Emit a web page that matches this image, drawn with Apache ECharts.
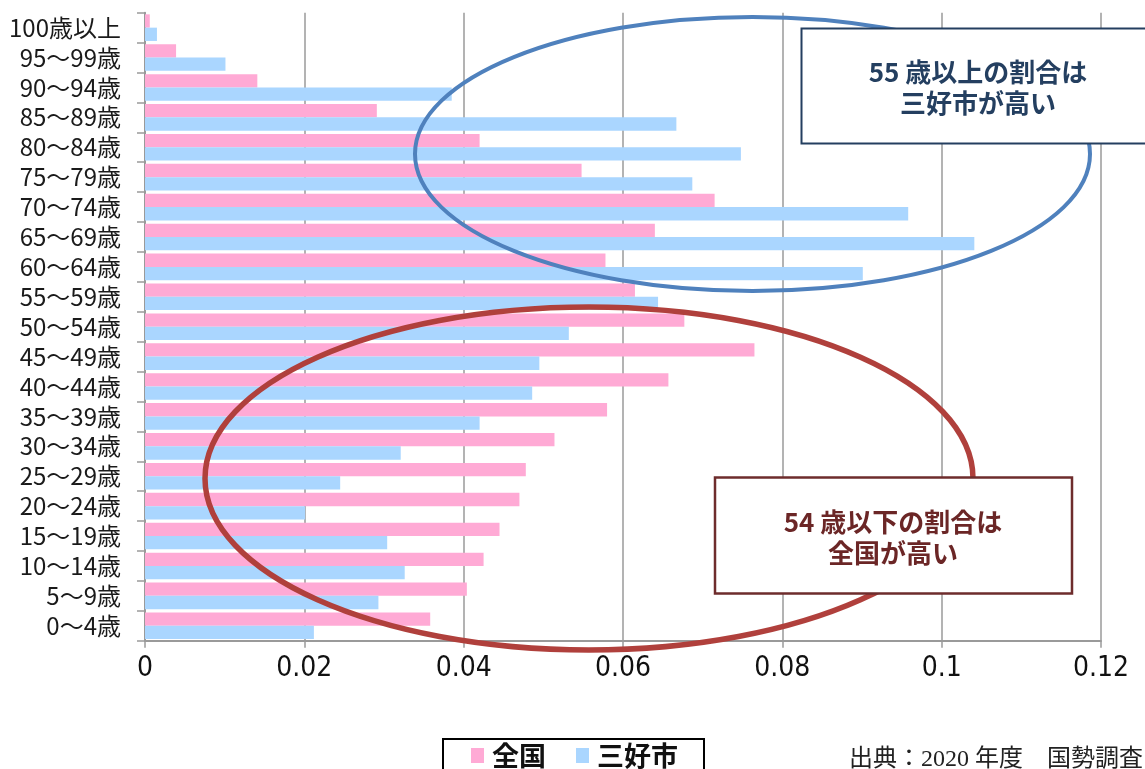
<!DOCTYPE html>
<html lang="ja">
<head>
<meta charset="utf-8">
<title>年齢階級別人口割合 全国と三好市</title>
<script src="https://cdn.jsdelivr.net/npm/echarts@6/dist/echarts.min.js"></script>
<style>
  html, body { margin: 0; padding: 0; background: #ffffff; }
  #chart { width: 1145px; height: 769px; }
</style>
</head>
<body>
<div id="chart"></div>
<script>
// Age groups, listed from the youngest (bottom of the chart) to the oldest (top)
const categories = [
  '0〜4歳', '5〜9歳', '10〜14歳', '15〜19歳', '20〜24歳', '25〜29歳',
  '30〜34歳', '35〜39歳', '40〜44歳', '45〜49歳', '50〜54歳', '55〜59歳',
  '60〜64歳', '65〜69歳', '70〜74歳', '75〜79歳', '80〜84歳', '85〜89歳',
  '90〜94歳', '95〜99歳', '100歳以上'
];

// Share of the population in each age group (2020 census)
const nationalShare = [
  0.0358, 0.0404, 0.0425, 0.0445, 0.0470, 0.0478,
  0.0514, 0.0580, 0.0657, 0.0765, 0.0677, 0.0615,
  0.0578, 0.0640, 0.0715, 0.0548, 0.0420, 0.0291,
  0.0141, 0.0039, 0.0006
];
const miyoshiShare = [
  0.0212, 0.0293, 0.0326, 0.0304, 0.0201, 0.0245,
  0.0321, 0.0420, 0.0486, 0.0495, 0.0532, 0.0644,
  0.0901, 0.1041, 0.0958, 0.0687, 0.0748, 0.0667,
  0.0385, 0.0101, 0.0015
];

const seriesNames = ['全国', '三好市'];
const tickLabels = ['0', '0.02', '0.04', '0.06', '0.08', '0.1', '0.12'];

const sourceNote = '出典：2020 年度　国勢調査';
const noteOlder = ['55 歳以上の割合は', '三好市が高い'];
const noteYounger = ['54 歳以下の割合は', '全国が高い'];

const pink = '#ffaad5';
const blue = '#aad6ff';
const gridGray = '#9a9a9a';
const jpFont = '"Noto Sans CJK JP", "Noto Sans", sans-serif';

const chart = echarts.init(document.getElementById('chart'), null, { renderer: 'canvas' });

chart.setOption({
  animation: false,
  backgroundColor: '#ffffff',
  grid: { left: 145, right: 44, top: 12.7, bottom: 128.3, containLabel: false },
  legend: {
    data: seriesNames,
    left: 443,
    top: 739,
    orient: 'horizontal',
    icon: 'rect',
    itemWidth: 13,
    itemHeight: 15,
    itemGap: 30,
    padding: [3, 26, 30, 28],
    borderColor: '#000000',
    borderWidth: 2,
    borderRadius: 0,
    textStyle: {
      fontFamily: jpFont,
      fontSize: 27,
      fontWeight: 'bold',
      color: '#111111',
      padding: [0, 0, 0, 3]
    }
  },
  xAxis: {
    type: 'value',
    min: 0,
    max: 0.12,
    interval: 0.02,
    axisLine: { show: true, lineStyle: { color: gridGray, width: 2 } },
    axisTick: { show: true, length: 7, lineStyle: { color: gridGray, width: 1.5 } },
    splitLine: { show: true, lineStyle: { color: gridGray, width: 1.5 } },
    axisLabel: {
      margin: 14,
      color: '#111111',
      fontFamily: '"Liberation Sans Narrow", "DejaVu Sans Condensed", sans-serif',
      fontSize: 28,
      formatter: (value, index) => tickLabels[index]
    }
  },
  yAxis: {
    type: 'category',
    data: categories,
    boundaryGap: true,
    axisLine: { show: true, lineStyle: { color: gridGray, width: 2 } },
    axisTick: { show: true, length: 8, interval: 0, lineStyle: { color: gridGray, width: 1.5 } },
    splitLine: { show: false },
    axisLabel: {
      interval: 0,
      margin: 24,
      color: '#1a1a1a',
      fontFamily: jpFont,
      fontSize: 24
    }
  },
  series: [
    {
      name: seriesNames[0],
      type: 'bar',
      data: nationalShare,
      barGap: '0%',
      barCategoryGap: '11%',
      itemStyle: { color: pink },
      z: 2
    },
    {
      name: seriesNames[1],
      type: 'bar',
      data: miyoshiShare,
      barGap: '0%',
      barCategoryGap: '11%',
      itemStyle: { color: blue },
      z: 2
    }
  ],
  graphic: [
    // highlight rings around the two age ranges
    {
      type: 'ellipse', z: 10, silent: true,
      shape: { cx: 752.5, cy: 154, rx: 337.5, ry: 137 },
      style: { fill: null, stroke: '#4f81bd', lineWidth: 4 }
    },
    {
      type: 'ellipse', z: 10, silent: true,
      shape: { cx: 589, cy: 478.5, rx: 384, ry: 171.5 },
      style: { fill: null, stroke: '#b0403c', lineWidth: 5.5 }
    },
    // callout boxes
    {
      type: 'rect', z: 20, silent: true,
      shape: { x: 801.5, y: 28.5, width: 360, height: 115 },
      style: { fill: '#ffffff', stroke: '#243f60', lineWidth: 2 }
    },
    {
      type: 'text', z: 21, silent: true, x: 978, y: 72,
      style: { text: noteOlder[0], font: 'bold 26px ' + jpFont, fill: '#243f60', textAlign: 'center', textVerticalAlign: 'middle' }
    },
    {
      type: 'text', z: 21, silent: true, x: 978, y: 103,
      style: { text: noteOlder[1], font: 'bold 26px ' + jpFont, fill: '#243f60', textAlign: 'center', textVerticalAlign: 'middle' }
    },
    {
      type: 'rect', z: 20, silent: true,
      shape: { x: 715, y: 477.5, width: 357, height: 116 },
      style: { fill: '#ffffff', stroke: '#6e2c2c', lineWidth: 2.5 }
    },
    {
      type: 'text', z: 21, silent: true, x: 893, y: 522,
      style: { text: noteYounger[0], font: 'bold 26px ' + jpFont, fill: '#6b2626', textAlign: 'center', textVerticalAlign: 'middle' }
    },
    {
      type: 'text', z: 21, silent: true, x: 893, y: 553,
      style: { text: noteYounger[1], font: 'bold 26px ' + jpFont, fill: '#6b2626', textAlign: 'center', textVerticalAlign: 'middle' }
    },
    // data source
    {
      type: 'text', z: 21, silent: true, x: 849, y: 760,
      style: { text: sourceNote, font: '24px "Liberation Serif", "Noto Sans CJK JP", serif', fill: '#222222', textAlign: 'left', textVerticalAlign: 'middle' }
    }
  ]
});
</script>
</body>
</html>
